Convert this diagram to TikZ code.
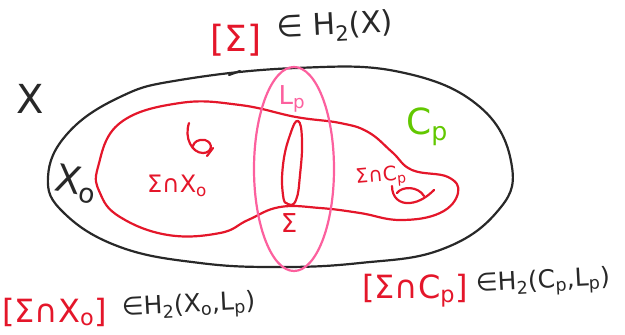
\documentclass[tikz,border=0pt]{standalone}
\usepackage{fontspec}
\setmainfont{DejaVu Sans}
\usetikzlibrary{positioning}
\definecolor{sred}{RGB}{228,22,42}
\definecolor{spink}{RGB}{252,96,158}
\definecolor{sgreen}{RGB}{98,200,0}
\definecolor{sink}{RGB}{40,40,40}
\newcommand{\fsz}[1]{\fontsize{#1}{#1}\selectfont}

\begin{document}
\begin{tikzpicture}[
    x=1pt, y=-1pt,
    every node/.style={inner sep=0pt, outer sep=0pt},
    outline/.style={draw=sink, line width=2.2pt, line cap=round, line join=round},
    surf/.style={draw=sred, line width=2.2pt, line cap=round, line join=round},
    fibre/.style={draw=spink, line width=2.2pt},
    redtag/.style={text=sred},
    inktag/.style={text=sink},
    pinktag/.style={text=spink},
    greentag/.style={text=sgreen}
  ]
  \useasboundingbox (0,0) rectangle (625,335);

  % the manifold X
  \draw[outline] plot[smooth cycle, tension=0.7] coordinates {
    (296,68) (400,72) (480,107) (512,167) (496,213) (440,250) (360,263)
    (280,267) (200,263) (120,247) (64,213) (48,177) (68,133) (120,97) (180,80)};
  \draw[outline] (240,71) -- (229,75);

  % the surface Sigma
  \draw[surf] plot[smooth cycle, tension=0.7] coordinates {
    (98,167) (120,123) (180,103) (240,105) (296,117) (340,123) (368,132)
    (392,152) (412,170) (448,177) (458,193) (440,213) (400,220) (360,213)
    (320,208) (280,207) (248,220) (220,233) (168,235) (120,217) (100,193)};
  \draw[surf] plot[smooth cycle, tension=0.8] coordinates {
    (298,121) (302,140) (300,175) (296,200) (288,204) (283,195) (283,165) (290,135)};

  % orientations
  \draw[surf] (189,123) .. controls (184,138) and (192,153) .. (203,153)
    .. controls (212,153) and (214,143) .. (205,140)
    .. controls (198,139) and (194,142) .. (193,146);
  \draw[surf] (207,156) -- (213,148);
  \draw[surf] (392,186) .. controls (392,198) and (400,204) .. (410,203)
    .. controls (420,202) and (428,196) .. (434,190);
  \draw[surf] (397,193) .. controls (402,186) and (418,186) .. (424,196);

  % the fibre L_p
  \draw[fibre] (294,169) ellipse [x radius=40, y radius=102];

  % labels
  \node[redtag, font=\fsz{36}] (sigcls) at (236,40) {[Σ]};
  \node[inktag, font=\fsz{30}, anchor=west, rotate=3] (hx) at (277,30) {∈ H\textsubscript{2}(X)};
  \node[inktag, font=\fsz{40}] (xlab) at (30,99) {X};
  \node[inktag, font=\fsz{38}, rotate=-10] (xolab) at (76,184) {X\textsubscript{o}};
  \node[redtag, font=\fsz{24}] (sxo) at (177,186) {Σ∩X\textsubscript{o}};
  \node[pinktag, font=\fsz{26}] (lp) at (292,99) {L\textsubscript{p}};
  \node[redtag, font=\fsz{26}] (sig) at (289,223) {Σ};
  \node[greentag, font=\fsz{36}] (cp) at (427,127) {C\textsubscript{p}};
  \node[redtag, font=\fsz{20}, rotate=5] (scp) at (381,177) {Σ∩C\textsubscript{p}};

  \node[redtag, font=\fsz{32}, anchor=west] (sxocls) at (2,312) {[Σ∩X\textsubscript{o}]};
  \node[inktag, font=\fsz{25}, anchor=west, rotate=3] (hxo) at (122,310) {∈H\textsubscript{2}(X\textsubscript{o},L\textsubscript{p})};
  \node[redtag, font=\fsz{32}, anchor=west] (scpcls) at (362,291) {[Σ∩C\textsubscript{p}]};
  \node[inktag, font=\fsz{25}, anchor=west, rotate=3] (hcp) at (476,286) {∈H\textsubscript{2}(C\textsubscript{p},L\textsubscript{p})};
\end{tikzpicture}
\end{document}
